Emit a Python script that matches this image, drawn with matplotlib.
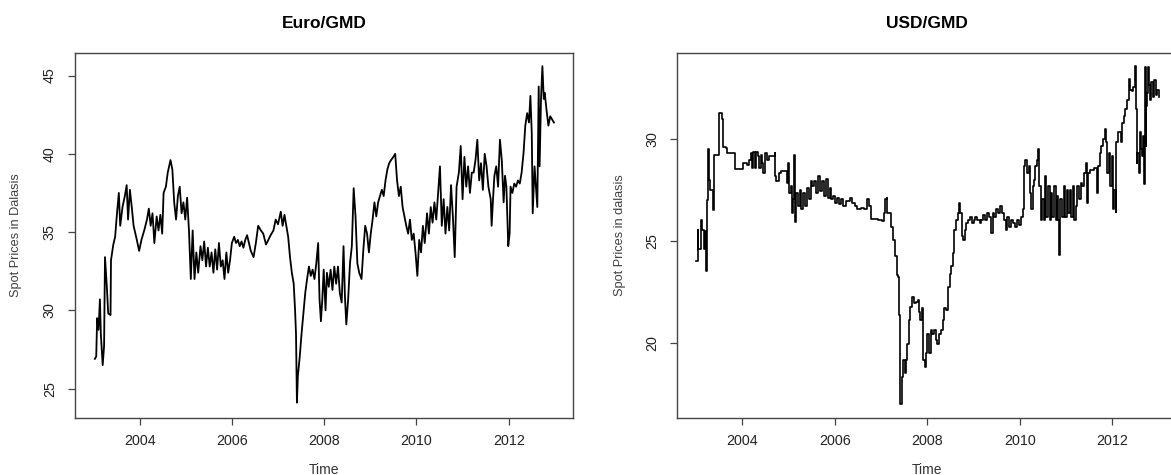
import matplotlib
matplotlib.use("Agg")
import matplotlib.pyplot as plt

plt.rcParams['font.family'] = ['Liberation Sans', 'DejaVu Sans']

titles = ["Euro/GMD", "USD/GMD"]
ylabels = ["Spot Prices in Dalasis", "Spot Prices in dalasis"]
xlabel = "Time"
year_ticks = [2004, 2006, 2008, 2010, 2012]
euro_yticks = [25, 30, 35, 40, 45]
usd_yticks = [20, 25, 30]

euro_year = [2003.03, 2003.06, 2003.08, 2003.11, 2003.14, 2003.16, 2003.20, 2003.23, 2003.25, 2003.29,
             2003.32, 2003.37, 2003.38, 2003.43, 2003.47, 2003.51, 2003.55, 2003.58, 2003.63, 2003.68,
             2003.72, 2003.75, 2003.79, 2003.83, 2003.87, 2003.94, 2003.99, 2004.04, 2004.10, 2004.16,
             2004.20, 2004.24, 2004.28, 2004.32, 2004.37, 2004.41, 2004.45, 2004.49, 2004.52, 2004.57,
             2004.61, 2004.67, 2004.71, 2004.75, 2004.79, 2004.83, 2004.87, 2004.91, 2004.95, 2004.99,
             2005.03, 2005.07, 2005.11, 2005.15, 2005.19, 2005.23, 2005.27, 2005.32, 2005.36, 2005.40,
             2005.44, 2005.48, 2005.52, 2005.56, 2005.60, 2005.64, 2005.68, 2005.72, 2005.76, 2005.80,
             2005.84, 2005.88, 2005.92, 2005.96, 2006.00, 2006.05, 2006.09, 2006.13, 2006.17, 2006.21,
             2006.25, 2006.29, 2006.33, 2006.37, 2006.41, 2006.47, 2006.52, 2006.57, 2006.63, 2006.68,
             2006.74, 2006.79, 2006.84, 2006.90, 2006.95, 2007.00, 2007.06, 2007.10, 2007.14, 2007.18,
             2007.22, 2007.26, 2007.30, 2007.34, 2007.37, 2007.39, 2007.41, 2007.43, 2007.47, 2007.51,
             2007.55, 2007.59, 2007.63, 2007.67, 2007.71, 2007.75, 2007.79, 2007.83, 2007.87, 2007.90,
             2007.93, 2007.96, 2007.99, 2008.03, 2008.06, 2008.10, 2008.14, 2008.18, 2008.22, 2008.26,
             2008.30, 2008.34, 2008.38, 2008.42, 2008.45, 2008.48, 2008.52, 2008.56, 2008.60, 2008.64,
             2008.68, 2008.72, 2008.76, 2008.81, 2008.85, 2008.89, 2008.93, 2008.97, 2009.01, 2009.05,
             2009.09, 2009.13, 2009.17, 2009.21, 2009.25, 2009.29, 2009.33, 2009.37, 2009.41, 2009.45,
             2009.50, 2009.54, 2009.58, 2009.62, 2009.66, 2009.70, 2009.74, 2009.78, 2009.82, 2009.86,
             2009.90, 2009.94, 2009.98, 2010.02, 2010.06, 2010.10, 2010.14, 2010.18, 2010.23, 2010.27,
             2010.31, 2010.35, 2010.39, 2010.43, 2010.47, 2010.51, 2010.55, 2010.59, 2010.63, 2010.67,
             2010.71, 2010.75, 2010.79, 2010.83, 2010.87, 2010.92, 2010.96, 2011.00, 2011.04, 2011.08,
             2011.12, 2011.16, 2011.20, 2011.24, 2011.28, 2011.32, 2011.36, 2011.40, 2011.44, 2011.48,
             2011.52, 2011.56, 2011.61, 2011.63, 2011.66, 2011.69, 2011.73, 2011.77, 2011.81, 2011.85,
             2011.89, 2011.92, 2011.95, 2011.99, 2012.02, 2012.04, 2012.08, 2012.12, 2012.16, 2012.20,
             2012.24, 2012.28, 2012.32, 2012.36, 2012.40, 2012.44, 2012.47, 2012.50, 2012.52, 2012.56,
             2012.59, 2012.62, 2012.65, 2012.67, 2012.70, 2012.73, 2012.76, 2012.78, 2012.82, 2012.86,
             2012.90, 2012.94, 2012.98]
euro_val = [26.9, 27.05, 29.5, 28.75, 30.7, 28.5, 26.5, 27.7, 33.4, 31.5,
            29.8, 29.7, 33.2, 34.2, 34.7, 36.2, 37.5, 35.4, 36.6, 37.3,
            38.0, 35.8, 37.7, 36.6, 35.4, 34.5, 33.8, 34.5, 35.1, 35.8,
            36.5, 35.4, 36.2, 34.3, 36.0, 35.1, 36.1, 34.9, 37.5, 37.9,
            38.8, 39.6, 39.0, 36.9, 35.8, 37.3, 37.9, 36.2, 36.9, 35.8,
            37.2, 35.1, 32.0, 35.1, 32.0, 33.7, 32.4, 34.1, 33.2, 34.4,
            32.8, 34.0, 32.8, 33.7, 32.4, 33.9, 32.6, 34.3, 32.8, 33.2,
            32.0, 33.7, 32.4, 33.2, 34.3, 34.7, 34.3, 34.5, 34.1, 34.4,
            34.0, 34.5, 34.8, 34.3, 33.8, 33.4, 34.3, 35.4, 35.1, 34.9,
            34.2, 34.5, 34.8, 35.1, 35.8, 35.5, 36.3, 35.4, 36.1, 35.4,
            34.7, 33.4, 32.4, 31.7, 30.0, 28.5, 24.1, 25.8, 27.0, 28.5,
            29.8, 31.1, 32.0, 32.8, 32.2, 32.6, 32.0, 33.0, 34.3, 30.7,
            29.3, 30.7, 32.6, 30.0, 32.4, 31.5, 32.6, 31.3, 32.8, 31.7,
            32.8, 31.1, 30.5, 34.1, 30.9, 29.1, 30.7, 33.0, 34.1, 37.8,
            36.0, 33.0, 32.4, 32.0, 33.9, 35.4, 34.9, 33.7, 34.9, 35.8,
            36.9, 36.0, 36.9, 37.3, 37.7, 37.3, 38.3, 39.0, 39.4, 39.6,
            39.8, 40.0, 38.3, 37.3, 37.9, 36.6, 36.0, 35.4, 34.9, 35.8,
            34.5, 34.9, 33.7, 32.2, 34.5, 33.7, 35.4, 34.3, 36.2, 34.9,
            36.6, 35.6, 36.9, 35.8, 37.5, 39.2, 35.4, 37.1, 34.9, 36.6,
            35.1, 38.0, 36.0, 33.4, 37.9, 38.8, 40.5, 37.1, 39.8, 37.9,
            39.2, 37.5, 38.8, 38.8, 39.6, 40.9, 38.3, 39.4, 37.7, 40.0,
            39.2, 37.9, 37.1, 35.4, 37.1, 38.6, 39.2, 37.9, 40.9, 39.6,
            36.9, 38.6, 37.9, 34.1, 34.9, 37.9, 37.5, 38.1, 37.9, 38.3,
            38.1, 38.8, 40.0, 41.8, 42.6, 42.0, 43.7, 41.3, 36.2, 39.2,
            37.9, 36.6, 44.3, 39.2, 43.5, 45.6, 43.5, 43.9, 42.8, 41.8,
            42.4, 42.2, 42.0]

usd_year = [2003.00, 2003.03, 2003.04, 2003.05, 2003.09, 2003.11, 2003.13, 2003.16, 2003.17, 2003.19,
            2003.21, 2003.22, 2003.24, 2003.26, 2003.27, 2003.29, 2003.30, 2003.36, 2003.38, 2003.39,
            2003.48, 2003.50, 2003.55, 2003.56, 2003.58, 2003.66, 2003.68, 2003.82, 2003.84, 2003.98,
            2004.01, 2004.11, 2004.15, 2004.19, 2004.21, 2004.24, 2004.28, 2004.31, 2004.34, 2004.36,
            2004.40, 2004.43, 2004.46, 2004.49, 2004.53, 2004.57, 2004.63, 2004.70, 2004.71, 2004.74,
            2004.79, 2004.83, 2004.91, 2004.96, 2005.00, 2005.02, 2005.05, 2005.08, 2005.10, 2005.13,
            2005.14, 2005.17, 2005.20, 2005.24, 2005.28, 2005.32, 2005.36, 2005.40, 2005.44, 2005.48,
            2005.52, 2005.56, 2005.60, 2005.64, 2005.68, 2005.72, 2005.77, 2005.81, 2005.85, 2005.89,
            2005.93, 2005.97, 2006.01, 2006.05, 2006.09, 2006.13, 2006.17, 2006.25, 2006.32, 2006.37,
            2006.43, 2006.49, 2006.57, 2006.64, 2006.70, 2006.74, 2006.78, 2006.86, 2006.94, 2007.02,
            2007.06, 2007.09, 2007.12, 2007.14, 2007.18, 2007.22, 2007.26, 2007.30, 2007.34, 2007.37,
            2007.38, 2007.41, 2007.42, 2007.45, 2007.47, 2007.51, 2007.53, 2007.56, 2007.60, 2007.63,
            2007.67, 2007.71, 2007.75, 2007.79, 2007.83, 2007.85, 2007.89, 2007.91, 2007.94, 2007.97,
            2008.00, 2008.03, 2008.07, 2008.11, 2008.15, 2008.19, 2008.22, 2008.25, 2008.29, 2008.33,
            2008.37, 2008.40, 2008.44, 2008.48, 2008.52, 2008.56, 2008.58, 2008.62, 2008.66, 2008.69,
            2008.71, 2008.74, 2008.78, 2008.81, 2008.84, 2008.88, 2008.92, 2008.96, 2009.00, 2009.04,
            2009.08, 2009.13, 2009.17, 2009.21, 2009.25, 2009.29, 2009.33, 2009.37, 2009.41, 2009.45,
            2009.49, 2009.53, 2009.57, 2009.61, 2009.65, 2009.69, 2009.73, 2009.77, 2009.81, 2009.85,
            2009.89, 2009.94, 2009.98, 2010.02, 2010.06, 2010.09, 2010.12, 2010.15, 2010.19, 2010.22,
            2010.24, 2010.28, 2010.30, 2010.33, 2010.36, 2010.40, 2010.42, 2010.45, 2010.48, 2010.51,
            2010.54, 2010.57, 2010.61, 2010.64, 2010.67, 2010.70, 2010.74, 2010.77, 2010.80, 2010.83,
            2010.85, 2010.87, 2010.91, 2010.95, 2010.98, 2011.01, 2011.04, 2011.08, 2011.11, 2011.14,
            2011.17, 2011.21, 2011.24, 2011.27, 2011.31, 2011.35, 2011.39, 2011.42, 2011.44, 2011.47,
            2011.51, 2011.55, 2011.60, 2011.64, 2011.66, 2011.69, 2011.72, 2011.76, 2011.80, 2011.83,
            2011.85, 2011.89, 2011.92, 2011.95, 2011.98, 2012.02, 2012.04, 2012.07, 2012.08, 2012.11,
            2012.15, 2012.18, 2012.21, 2012.24, 2012.28, 2012.32, 2012.35, 2012.37, 2012.42, 2012.45,
            2012.49, 2012.50, 2012.52, 2012.54, 2012.57, 2012.59, 2012.62, 2012.64, 2012.66, 2012.68,
            2012.70, 2012.72, 2012.73, 2012.75, 2012.77, 2012.79, 2012.81, 2012.84, 2012.87, 2012.90,
            2012.94, 2012.97, 2013.00]
usd_val = [24.03, 24.0, 25.55, 24.6, 24.6, 26.05, 25.55, 25.55, 24.6, 25.5,
           23.9, 23.5, 27.0, 27.0, 29.5, 28.0, 27.5, 27.5, 26.5, 29.25,
           29.25, 31.3, 31.3, 31.0, 29.6, 29.55, 29.35, 29.35, 28.55, 28.55,
           28.85, 28.75, 29.0, 29.35, 28.6, 29.4, 28.6, 29.4, 29.2, 28.6,
           29.25, 28.85, 28.35, 29.35, 29.0, 29.2, 29.2, 29.35, 28.2, 27.95,
           28.35, 28.45, 28.45, 27.85, 28.85, 27.35, 27.7, 26.4, 27.05, 29.25,
           25.95, 27.35, 26.7, 27.5, 26.55, 27.35, 26.7, 27.6, 27.05, 27.95,
           27.7, 27.95, 27.35, 28.2, 27.45, 27.95, 27.2, 28.05, 27.1, 27.6,
           27.05, 27.2, 26.85, 27.1, 26.8, 27.05, 26.7, 26.95, 27.1, 26.85,
           26.7, 26.55, 26.6, 26.55, 27.05, 26.7, 26.1, 26.1, 26.05, 26.0,
           26.4, 27.05, 27.1, 26.4, 26.4, 25.7, 25.05, 24.25, 23.35, 23.25,
           21.35, 21.3, 17.0, 18.3, 19.15, 18.5, 19.15, 19.95, 21.1, 21.75,
           22.25, 21.95, 22.0, 22.1, 21.5, 21.1, 21.7, 19.15, 18.8, 19.5,
           20.45, 19.5, 20.6, 20.45, 20.6, 20.15, 19.95, 20.45, 20.6, 21.1,
           21.7, 21.6, 22.75, 23.4, 23.75, 24.4, 25.55, 26.05, 26.4, 26.85,
           26.4, 25.25, 25.05, 25.55, 25.9, 26.05, 26.2, 25.9, 26.05, 26.2,
           26.05, 25.9, 26.05, 26.3, 26.05, 26.4, 26.2, 25.4, 26.4, 26.2,
           26.55, 26.4, 26.7, 26.4, 26.05, 25.55, 26.2, 25.7, 26.05, 25.9,
           25.7, 26.05, 25.8, 26.2, 26.55, 28.7, 29.0, 28.35, 28.7, 27.35,
           26.55, 27.7, 28.0, 28.7, 29.0, 29.5, 27.7, 26.05, 27.05, 26.05,
           28.2, 26.2, 27.7, 26.05, 27.35, 26.2, 27.7, 26.05, 27.2, 26.05,
           24.3, 27.05, 26.2, 27.7, 26.2, 27.5, 26.4, 27.5, 26.2, 27.7,
           26.05, 26.7, 27.7, 27.05, 27.85, 27.7, 28.35, 28.85, 26.85, 28.35,
           28.5, 28.5, 28.6, 28.6, 27.35, 28.7, 29.35, 29.65, 30.0, 30.5,
           29.85, 28.35, 29.35, 27.7, 29.2, 26.55, 27.5, 26.45, 29.85, 30.35,
           30.35, 29.85, 30.8, 31.15, 31.5, 31.95, 32.95, 32.45, 32.4, 32.55,
           33.6, 31.5, 28.85, 29.35, 28.35, 30.35, 29.5, 29.2, 30.15, 27.8,
           33.55, 29.65, 31.65, 32.3, 33.55, 32.65, 31.95, 32.8, 32.1, 32.9,
           32.2, 32.45, 32.1]

W, H = 1171, 475
fig = plt.figure(figsize=(W / 100, H / 100), dpi=100)

panels = [
    dict(rect=[75 / W, 1 - 417.7 / H, 498.3 / W, 365 / H], x=euro_year, y=euro_val,
         ylim=(23.14, 46.46), yticks=euro_yticks, steps=False, lw=1.3, ylab_x=-0.118),
    dict(rect=[677.3 / W, 1 - 417.7 / H, 500 / W, 365 / H], x=usd_year, y=usd_val,
         ylim=(16.31, 34.26), yticks=usd_yticks, steps=True, lw=1.2, ylab_x=-0.114),
]

for i, p in enumerate(panels):
    ax = fig.add_axes(p["rect"])
    kw = dict(color="black", lw=p["lw"])
    if p["steps"]:
        kw["drawstyle"] = "steps-post"
    ax.plot(p["x"], p["y"], **kw)
    ax.set_xlim(2002.6, 2013.4)
    ax.set_ylim(*p["ylim"])
    ax.set_xticks(year_ticks)
    ax.set_xticklabels([str(t) for t in year_ticks])
    ax.set_yticks(p["yticks"])
    ax.set_yticklabels([str(t) for t in p["yticks"]], rotation=90, va="center")
    for s in ax.spines.values():
        s.set_color("#444444")
        s.set_linewidth(1.0)
    ax.tick_params(axis="both", direction="out", length=5, width=0.9, color="#444444",
                   labelsize=10.3, labelcolor="#222222")
    ax.tick_params(axis="x", pad=6.5)
    ax.tick_params(axis="y", pad=8)
    ax.set_title(titles[i], fontsize=12.5, fontweight="bold", pad=0, y=1 + (52.7 - 23) / 365,
                 va="center")
    ax.set_xlabel(xlabel, fontsize=10, color="#333333")
    ax.xaxis.set_label_coords(0.5, -52 / 365)
    ax.xaxis.label.set_va("center")
    ax.set_ylabel(ylabels[i], fontsize=9.2, color="#404040")
    ax.yaxis.set_label_coords(p["ylab_x"], 0.5)
    ax.yaxis.label.set_va("center")

fig.savefig("out.png", dpi=100)
